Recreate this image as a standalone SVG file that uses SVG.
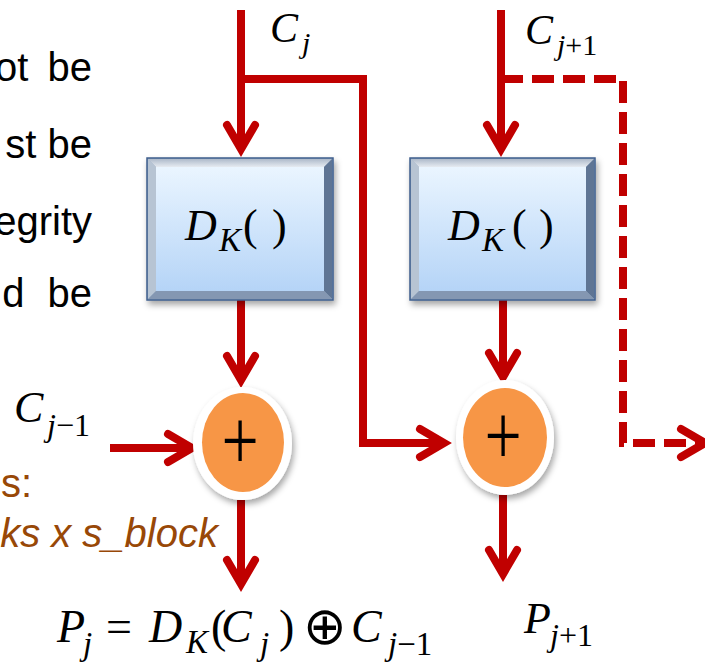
<svg xmlns="http://www.w3.org/2000/svg" width="705" height="663" viewBox="0 0 705 663">
<style>
.txt{font-family:"Liberation Sans",Arial,sans-serif;font-size:40px;fill:#000}
.brown{fill:#984807}
.m{font-family:"Liberation Serif","Times New Roman",serif;fill:#000}
.i{font-style:italic}
.con{fill:none;stroke:#C00000;stroke-width:8;stroke-linejoin:miter}
.dash{stroke-dasharray:22 9}
.frame{fill:#9DB0C8;stroke:#3E5E8C;stroke-width:1.5}
.bt{fill:url(#bevT)}
.bl{fill:#B7C4D3}
.br{fill:#5E7494}
.bb{fill:#8497B2}
.face{fill:url(#face)}
.ring{fill:#FFFFFF}
.orange{fill:#F79646}
</style>
<defs>
<linearGradient id="face" x1="0" y1="0" x2="0" y2="1">
<stop offset="0" stop-color="#EAF5FF"/>
<stop offset="1" stop-color="#B5D4F7"/>
</linearGradient>
<linearGradient id="bevT" x1="0" y1="0" x2="0" y2="1">
<stop offset="0" stop-color="#AEBACA"/>
<stop offset="1" stop-color="#E6EBF1"/>
</linearGradient>
<filter id="sh" x="-20%" y="-20%" width="150%" height="150%">
<feDropShadow dx="2" dy="4" stdDeviation="3" flood-color="#000" flood-opacity="0.35"/>
</filter>
<marker id="ah" markerUnits="userSpaceOnUse" markerWidth="60" markerHeight="60" viewBox="-40 -30 60 60" refX="0" refY="0" orient="auto" overflow="visible">
<path d="M-24,-14 L0,0 L-24,14" fill="none" stroke="#C00000" stroke-width="8" stroke-linecap="round" stroke-linejoin="miter"/>
</marker>
</defs>

<g id="side-text">
<text class="txt" x="92" y="81" text-anchor="end" word-spacing="8">ot be</text>
<text class="txt" x="92" y="158" text-anchor="end">st be</text>
<text class="txt" x="92" y="235" text-anchor="end">egrity</text>
<text class="txt" x="92" y="307" text-anchor="end" word-spacing="12">d be</text>
<text class="txt brown" x="32" y="497" text-anchor="end">s:</text>
<text class="txt brown" x="218" y="547" text-anchor="end" font-style="italic">ks x s_block</text>
</g>

<g id="connectors">
<path class="con" d="M241,10 V149" marker-end="url(#ah)"/>
<path class="con" d="M241,79 H363 V443 H444" marker-end="url(#ah)"/>
<path class="con" d="M241,300 V380" marker-end="url(#ah)"/>
<path class="con" d="M110,448 H192" marker-end="url(#ah)"/>
<path class="con" d="M241,500 V584" marker-end="url(#ah)"/>
<path class="con" d="M501,10 V149" marker-end="url(#ah)"/>
<path class="con" d="M503,300 V377" marker-end="url(#ah)"/>
<path class="con" d="M503,495 V574" marker-end="url(#ah)"/>
<path class="con dash" d="M501,79 H623 V443 H705" marker-end="url(#ah)"/>
</g>

<g id="box1">
<g filter="url(#sh)">
<rect class="frame" x="147" y="158" width="186" height="142"/>
<polygon class="bt" points="148,159 332,159 324,167 156,167"/>
<polygon class="bl" points="148,159 156,167 156,291 148,299"/>
<polygon class="br" points="332,159 332,299 324,291 324,167"/>
<polygon class="bb" points="148,299 332,299 324,291 156,291"/>
<rect class="face" x="156" y="167" width="168" height="124"/>
</g>
<text class="m"><tspan class="i" x="185" y="240" font-size="44">D</tspan><tspan class="i" x="219" y="251" font-size="33">K</tspan><tspan x="243" y="240" font-size="44">(</tspan><tspan x="272" y="240" font-size="44">)</tspan></text>
</g>

<g id="box2">
<g filter="url(#sh)">
<rect class="frame" x="410" y="158" width="185" height="142"/>
<polygon class="bt" points="411,159 594,159 586,167 419,167"/>
<polygon class="bl" points="411,159 419,167 419,291 411,299"/>
<polygon class="br" points="594,159 594,299 586,291 586,167"/>
<polygon class="bb" points="411,299 594,299 586,291 419,291"/>
<rect class="face" x="419" y="167" width="167" height="124"/>
</g>
<text class="m"><tspan class="i" x="448" y="240" font-size="44">D</tspan><tspan class="i" x="482" y="251" font-size="33">K</tspan><tspan x="512" y="240" font-size="44">(</tspan><tspan x="539" y="240" font-size="44">)</tspan></text>
</g>

<g id="xor1">
<ellipse class="ring" cx="242.5" cy="443.5" rx="49.5" ry="56.5" filter="url(#sh)"/>
<ellipse class="orange" cx="243" cy="442.5" rx="41" ry="49.5"/>
<text class="m" transform="translate(240,448) scale(1,1.33)" x="0" y="16.7" font-size="66" text-anchor="middle">+</text>
</g>

<g id="xor2">
<ellipse class="ring" cx="505" cy="437.5" rx="49" ry="57.5" filter="url(#sh)"/>
<ellipse class="orange" cx="505" cy="437.5" rx="42" ry="49.5"/>
<text class="m" transform="translate(503,443) scale(1,1.33)" x="0" y="16.7" font-size="66" text-anchor="middle">+</text>
</g>

<g id="labels">
<text class="m"><tspan class="i" x="270" y="42" font-size="42">C</tspan><tspan class="i" x="302" y="53" font-size="30">j</tspan></text>
<text class="m"><tspan class="i" x="525" y="44" font-size="42">C</tspan><tspan class="i" x="557" y="55" font-size="30">j</tspan><tspan font-size="30">+1</tspan></text>
<text class="m"><tspan class="i" x="14" y="422" font-size="44">C</tspan><tspan class="i" x="47" y="436" font-size="32">j</tspan><tspan font-size="32">−1</tspan></text>
<text class="m"><tspan class="i" x="524" y="633" font-size="44">P</tspan><tspan class="i" x="550" y="646" font-size="32">j</tspan><tspan font-size="32">+1</tspan></text>
<text class="m"><tspan class="i" x="57" y="642" font-size="46">P</tspan><tspan class="i" x="83" y="655" font-size="33">j</tspan><tspan x="106" y="642" font-size="46">=</tspan><tspan class="i" x="149" y="642" font-size="46">D</tspan><tspan class="i" x="186" y="653" font-size="33">K</tspan><tspan x="211" y="642" font-size="46">(</tspan><tspan class="i" x="221" y="642" font-size="46">C</tspan><tspan class="i" x="260" y="655" font-size="33">j</tspan><tspan x="279" y="642" font-size="46">)</tspan><tspan x="303" y="644" font-size="52" font-family="DejaVu Sans">⊕</tspan><tspan class="i" x="351" y="642" font-size="46">C</tspan><tspan class="i" x="388" y="655" font-size="33">j</tspan><tspan font-size="33">−1</tspan></text>
</g>
</svg>
